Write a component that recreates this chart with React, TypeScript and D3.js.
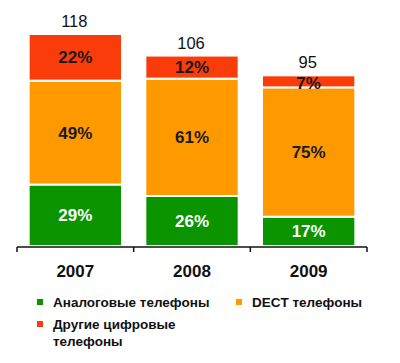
import * as d3 from 'd3';

const years = ['2007', '2008', '2009'];
const totals = [118, 106, 95];
// shares per series, bottom to top
const analogPct = [29, 26, 17];
const dectPct = [49, 61, 75];
const otherPct = [22, 12, 7];

const seriesNames = ['Аналоговые телефоны', 'DECT телефоны', 'Другие цифровые телефоны'];
const seriesColors = ['#0a9400', '#ff9900', '#fa3c0a'];
const labelColors = ['#ffffff', '#1a1a1a', '#1a1a1a'];

const W = 400;
const H = 363;
const font = '"Liberation Sans", Arial, sans-serif';

function App() {
  const x = d3.scaleBand<string>().domain(years).range([17, 367]).padding(0);
  const y = d3.scaleLinear().domain([0, 118]).range([246, 34]);
  const barW = x.bandwidth() * 0.8;

  const pcts = [analogPct, dectPct, otherPct];
  const rows = years.map((yr, i) => {
    const sum = pcts.reduce((s, p) => s + p[i], 0);
    const r: Record<string, number | string> = { year: yr };
    pcts.forEach((p, k) => (r['s' + k] = (totals[i] * p[i]) / sum));
    return r;
  });
  const stack = d3.stack<any>().keys(['s0', 's1', 's2'])(rows);

  const ticks = [...years.map((yr) => x(yr) as number), 367];

  const legendPos = [
    [37, 299],
    [236, 299],
    [37, 321],
  ];
  const legendLines = [[seriesNames[0]], [seriesNames[1]], ['Другие цифровые', 'телефоны']];

  return (
    <svg width={W} height={H} style={{ position: 'absolute', left: 0, top: 0, background: '#fff' }} fontFamily={font}>
      {stack.map((layer, k) =>
        layer.map((d, i) => {
          const cx = (x(years[i]) as number) + x.bandwidth() / 2;
          const y0 = y(d[0]);
          const y1 = y(d[1]);
          return (
            <g key={k + '-' + i}>
              <rect x={cx - barW / 2} y={y1} width={barW} height={y0 - y1} fill={seriesColors[k]} stroke="#fff" strokeWidth={2} />
              <text
                x={cx}
                y={(y0 + y1) / 2 + (y0 - y1 < 14 ? 2 : 0)}
                dy="0.35em"
                textAnchor="middle"
                fontSize={17}
                fontWeight="bold"
                fill={labelColors[k]}
              >
                {pcts[k][i]}%
              </text>
            </g>
          );
        })
      )}
      {years.map((yr, i) => {
        const cx = (x(yr) as number) + x.bandwidth() / 2;
        return (
          <g key={yr}>
            <text x={cx - 1} y={y(totals[i]) - 7} textAnchor="middle" fontSize={16.5} fill="#111">
              {totals[i]}
            </text>
            <text x={cx} y={277} textAnchor="middle" fontSize={17} fontWeight="bold" fill="#111">
              {yr}
            </text>
          </g>
        );
      })}
      <line x1={17} x2={367} y1={247} y2={247} stroke="#111" strokeWidth={1.5} />
      {ticks.map((t) => (
        <line key={t} x1={t} x2={t} y1={247} y2={252} stroke="#111" strokeWidth={1.5} />
      ))}
      {seriesNames.map((name, k) => (
        <g key={name} transform={`translate(${legendPos[k][0]},${legendPos[k][1]})`}>
          <rect x={0} y={0} width={6} height={6} fill={seriesColors[k]} />
          <text x={16} y={8} fontSize={13.5} fontWeight="bold" fill="#111">
            {legendLines[k].map((ln, j) => (
              <tspan key={j} x={16} dy={j === 0 ? 0 : 17}>
                {ln}
              </tspan>
            ))}
          </text>
        </g>
      ))}
    </svg>
  );
}

export default App;
